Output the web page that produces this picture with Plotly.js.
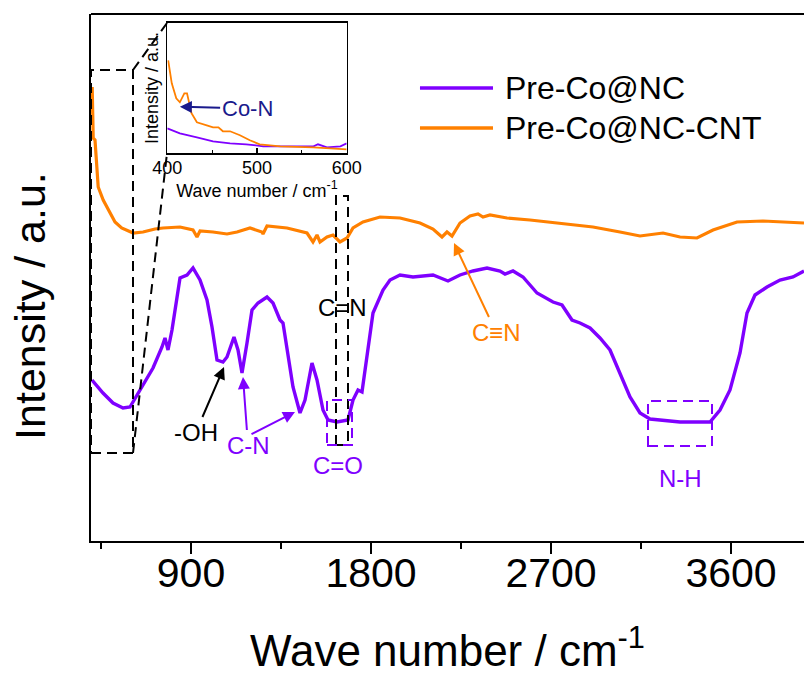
<!DOCTYPE html>
<html>
<head>
<meta charset="utf-8">
<script src="https://cdn.plot.ly/plotly-3.0.1.min.js"></script>
<style>html,body{margin:0;padding:0;background:#fff;overflow:hidden}#chart{width:804px;height:678px}</style>
</head>
<body>
<div id="chart"></div>
<script>
// Main spectra (wave number in cm^-1, intensity in arbitrary units)
const waveOrange = [406,411,420,425,436,461,486,520,553,611,660,720,760,845,910,930,945,1010,1080,1130,1195,1255,1260,1280,1380,1480,1510,1530,1545,1580,1610,1645,1680,1710,1760,1845,1945,2045,2110,2155,2180,2205,2245,2295,2335,2360,2395,2480,2595,2745,2910,3045,3145,3260,3345,3430,3510,3630,3760,3965];
const intOrange = [454,403,401,384,354,341,331,319,313,308,309,312,313,314,311,304,310,309,307,309,313,309,307,315,313,308,299,306,299,304,306,299,303,313,319,324,323,318,312,304,309,305,318,325,327,324,326,323,321,318,314,309,305,308,304,303,311,319,320,318];
const wavePurple = [405,460,510,560,595,630,680,710,755,770,785,805,845,880,910,945,980,1005,1030,1060,1080,1115,1135,1155,1180,1205,1235,1280,1310,1345,1360,1385,1410,1445,1470,1505,1530,1560,1585,1630,1685,1710,1735,1755,1780,1810,1860,1895,1945,2010,2110,2185,2245,2310,2380,2445,2470,2510,2560,2630,2710,2755,2805,2845,2895,2945,2995,3045,3095,3145,3195,3345,3495,3545,3595,3645,3680,3720,3780,3845,3910,3965];
const intPurple = [161,148,138,133,134,146,164,173,194,203,191,211,263,266,273,261,241,214,181,179,184,204,191,168,198,231,238,244,238,221,218,188,154,128,141,178,161,131,121,119,121,141,151,149,184,228,251,261,266,264,266,260,266,270,273,270,267,270,264,248,239,236,221,218,213,203,191,168,144,128,122,119,119,131,151,188,228,246,254,261,264,270];

// Inset (400-600 cm^-1)
const waveInsetOrange = [401,405,410,414,419,422,427,433,444,451,457,462,470,481,492,503,526,563,600];
const intInsetOrange = [93,70,55,51,60,60,40,31,28,26,26,22,22,18,13,9,7,6,4];
const waveInsetPurple = [400,414,433,451,470,488,507,533,563,568,578,593,600];
const intInsetPurple = [25,20,16,12,10,9,7,7,7,9,6,7,10];

const seriesNames = ['Pre-Co@NC', 'Pre-Co@NC-CNT'];
const xTickVals = [900, 1800, 2700, 3600];
const xMinorVals = [450, 1350, 2250, 3150];
const insetTickVals = [400, 500, 600];
const insetMinorVals = [450, 550];

const PURPLE = '#7f00ff', ORANGE = '#ff8000', NAVY = '#1a1a8c';
const FONT = 'Arial, "Liberation Sans", sans-serif';

const traces = [
  {x: wavePurple, y: intPurple, name: seriesNames[0], mode: 'lines', line: {color: PURPLE, width: 3.4}, xaxis: 'x', yaxis: 'y', showlegend: false},
  {x: waveOrange, y: intOrange, name: seriesNames[1], mode: 'lines', line: {color: ORANGE, width: 3.2}, xaxis: 'x', yaxis: 'y', showlegend: false},
  {x: waveInsetPurple, y: intInsetPurple, name: seriesNames[0] + ' (inset)', mode: 'lines', line: {color: PURPLE, width: 1.8}, xaxis: 'x2', yaxis: 'y2', showlegend: false},
  {x: waveInsetOrange, y: intInsetOrange, name: seriesNames[1] + ' (inset)', mode: 'lines', line: {color: ORANGE, width: 1.8}, xaxis: 'x2', yaxis: 'y2', showlegend: false}
];

const DASH = '10px,6px';
const shapes = [
  // top frame line
  {type: 'line', xref: 'paper', yref: 'paper', x0: 0, x1: 1, y0: 1, y1: 1, line: {color: '#000', width: 2}},
  // zoom box around 400-600 region
  {type: 'rect', xref: 'x', yref: 'y', x0: 400, x1: 610, y0: 88, y1: 471, line: {color: '#000', width: 2, dash: DASH}},
  {type: 'line', xref: 'paper', yref: 'paper', x0: 0.0589, y0: 0.8937, x1: 0.1066, y1: 0.9829, line: {color: '#000', width: 2, dash: DASH}},
  {type: 'line', xref: 'paper', yref: 'paper', x0: 0.0589, y0: 0.1670, x1: 0.1066, y1: 0.7362, line: {color: '#000', width: 2, dash: DASH}},
  // C=N box
  {type: 'rect', xref: 'x', yref: 'y', x0: 1625, x1: 1685, y0: 96, y1: 345, line: {color: '#000', width: 2, dash: DASH}},
  // C=O box
  {type: 'rect', xref: 'x', yref: 'y', x0: 1580, x1: 1705, y0: 96, y1: 141, line: {color: PURPLE, width: 2, dash: DASH}},
  // N-H box
  {type: 'rect', xref: 'x', yref: 'y', x0: 3185, x1: 3505, y0: 95, y1: 140, line: {color: PURPLE, width: 2, dash: DASH}},
  // legend samples
  {type: 'line', xref: 'paper', yref: 'paper', x0: 0.4614, x1: 0.5638, y0: 0.8596, y1: 0.8596, line: {color: PURPLE, width: 3.4}},
  {type: 'line', xref: 'paper', yref: 'paper', x0: 0.4614, x1: 0.5638, y0: 0.7837, y1: 0.7837, line: {color: ORANGE, width: 3.4}}
];

function label(text, x, y, color, size) {
  return {text: text, x: x, y: y, xref: 'x', yref: 'y', showarrow: false, font: {family: FONT, size: size || 24, color: color}, xanchor: 'center', yanchor: 'middle'};
}
// labelled arrow: text sits at (tx, ty), arrow points at (hx, hy)
function labelArrow(text, hx, hy, tx, ty, color, size, xr, yr) {
  return {text: text, x: hx, y: hy, ax: tx, ay: ty, xref: xr || 'x', yref: yr || 'y', axref: xr || 'x', ayref: yr || 'y',
    showarrow: true, arrowhead: 2, arrowsize: 1.2, arrowwidth: 2, arrowcolor: color, standoff: 0, startstandoff: 0,
    font: {family: FONT, size: size || 24, color: color}};
}

const annotations = [
  label('C=N', 1655, 234, '#000'),
  label('C=O', 1637, 76, PURPLE),
  label('N-H', 3345, 63, PURPLE),
  labelArrow('-OH', 1065, 174, 925, 109, '#000'),
  labelArrow('C-N', 1160, 164, 1185, 96, PURPLE),
  {text: '', x: 1420, y: 129, ax: 1195, ay: 106, xref: 'x', yref: 'y', axref: 'x', ayref: 'y', showarrow: true, arrowhead: 2, arrowsize: 1.2, arrowwidth: 2, arrowcolor: PURPLE},
  labelArrow('C\u2261N', 2215, 298, 2425, 209, ORANGE),
  labelArrow('Co-N', 414, 46.6, 489, 45, NAVY, 22, 'x2', 'y2'),
  // y-axis title
  {text: 'Intensity / a.u.', x: -0.0856, y: 0.446, xref: 'paper', yref: 'paper', textangle: -90, showarrow: false, xanchor: 'center', yanchor: 'middle', font: {family: FONT, size: 43, color: '#000'}},
  // legend text
  {text: seriesNames[0], x: 0.5778, y: 0.8596, xref: 'paper', yref: 'paper', showarrow: false, xanchor: 'left', yanchor: 'middle', font: {family: FONT, size: 32, color: '#000'}},
  {text: seriesNames[1], x: 0.5778, y: 0.7837, xref: 'paper', yref: 'paper', showarrow: false, xanchor: 'left', yanchor: 'middle', font: {family: FONT, size: 32, color: '#000'}}
];

const layout = {
  width: 804, height: 678,
  margin: {l: 91, r: 0, t: 14, b: 137},
  paper_bgcolor: '#fff', plot_bgcolor: 'rgba(0,0,0,0)',
  font: {family: FONT, color: '#000'},
  showlegend: false,
  xaxis: {
    range: [400, 3965], tickvals: xTickVals, ticks: 'outside', ticklen: 11, tickwidth: 2, tickcolor: '#000',
    minor: {tickvals: xMinorVals, ticks: 'outside', ticklen: 6, tickwidth: 2, tickcolor: '#000'},
    showline: true, linewidth: 2, linecolor: '#000', showgrid: false, zeroline: false,
    ticklabelstandoff: -16,
    tickfont: {size: 41, family: FONT, color: '#000'},
    title: {text: 'Wave number / cm<sup>-1</sup>', font: {size: 44, family: FONT, color: '#000'}, standoff: 40}
  },
  yaxis: {
    range: [0, 527], showticklabels: false, ticks: '', showline: true, linewidth: 2, linecolor: '#000',
    showgrid: false, zeroline: false
  },
  xaxis2: {
    domain: [0.107, 0.3586], anchor: 'y2', range: [400, 600], tickvals: insetTickVals,
    ticks: 'inside', ticklen: 5, tickwidth: 1.2, tickcolor: '#000',
    minor: {tickvals: insetMinorVals, ticks: 'inside', ticklen: 3, tickwidth: 1.2, tickcolor: '#000'},
    showline: true, mirror: true, linewidth: 1.5, linecolor: '#000', showgrid: false, zeroline: false,
    ticklabelstandoff: -2,
    tickfont: {size: 18, family: FONT, color: '#000'},
    title: {text: 'Wave number / cm<sup>-1</sup>', font: {size: 18, family: FONT, color: '#000'}, standoff: 0}
  },
  yaxis2: {
    domain: [0.7357, 0.9835], anchor: 'x2', range: [0, 130.6], showticklabels: false, ticks: '',
    showline: true, mirror: true, linewidth: 1.5, linecolor: '#000', showgrid: false, zeroline: false,
    title: {text: 'Intensity / a.u.', font: {size: 18, family: FONT, color: '#000'}, standoff: 2}
  },
  shapes: shapes,
  annotations: annotations
};

Plotly.newPlot('chart', traces, layout, {displayModeBar: false, staticPlot: true});
</script>
</body>
</html>
